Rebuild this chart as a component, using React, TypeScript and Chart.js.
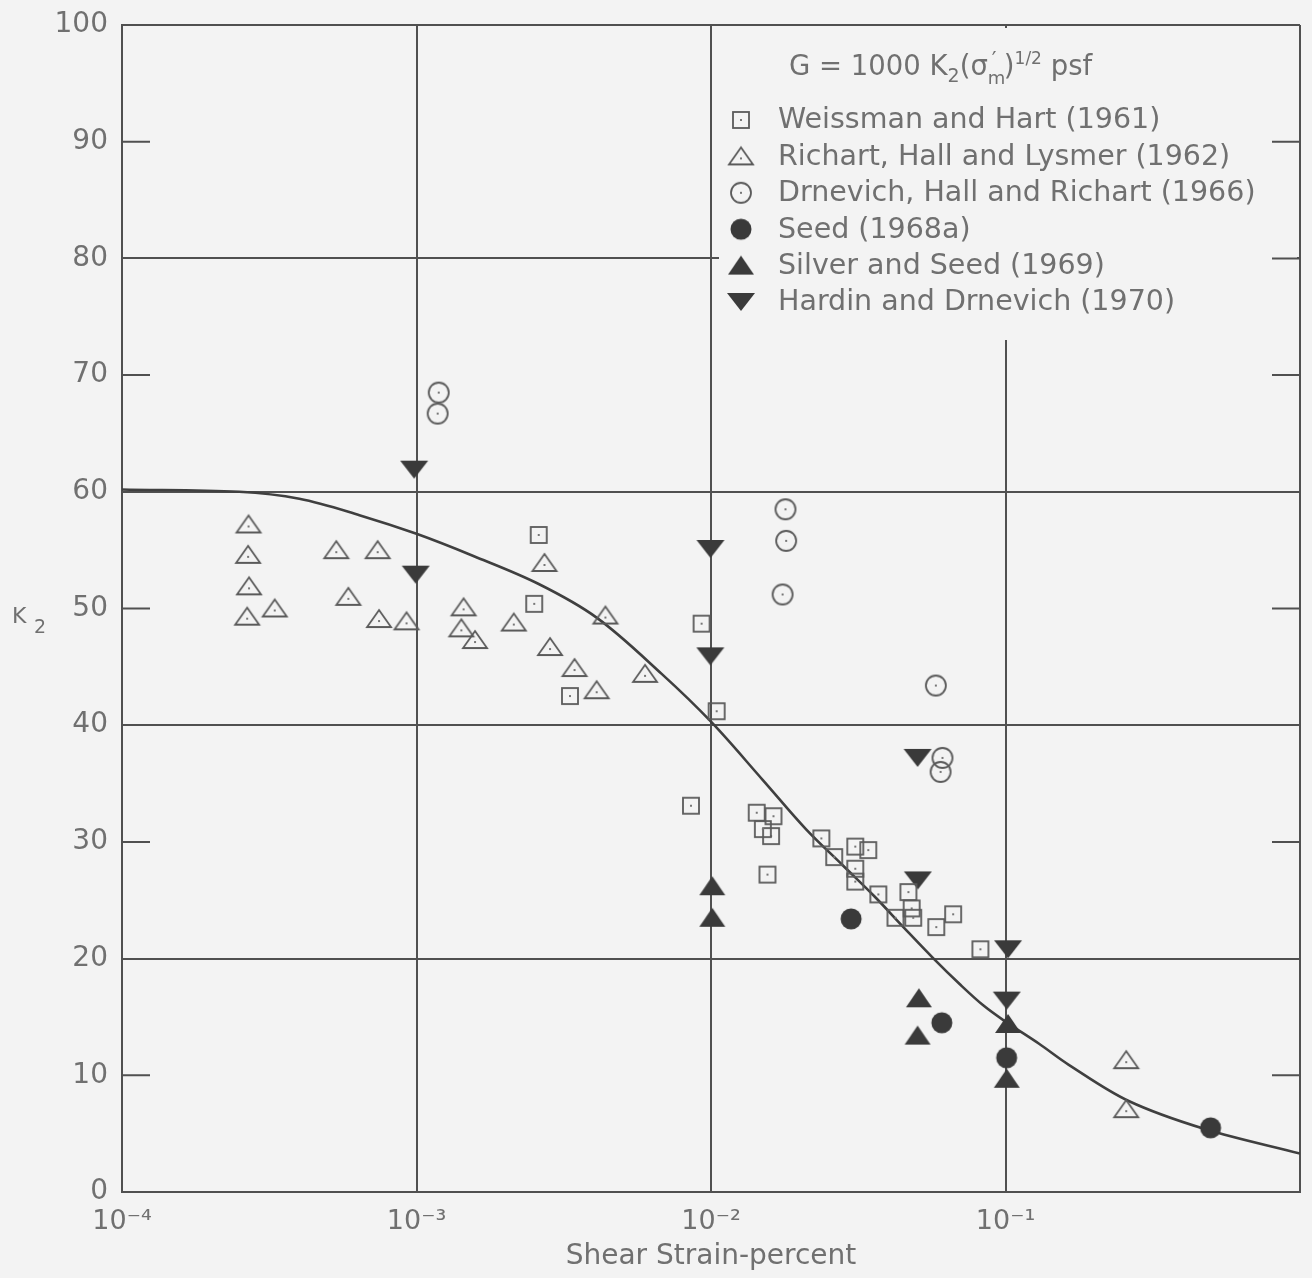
import React, { useEffect, useRef } from "react";
import { Chart, registerables } from "chart.js";

Chart.register(...registerables);

// ---------- data ----------
const xTickValues = [1e-4, 1e-3, 1e-2, 1e-1, 1];
const xTickLabels = ["10⁻⁴", "10⁻³", "10⁻²", "10⁻¹", ""];
const yMajorGrid = [0, 20, 40, 60, 80, 100];
const yMinorTicks = [10, 30, 50, 70, 90];

const seriesLabels = [
  "Weissman and Hart (1961)",
  "Richart, Hall and Lysmer (1962)",
  "Drnevich, Hall and Richart (1966)",
  "Seed (1968a)",
  "Silver and Seed (1969)",
  "Hardin and Drnevich (1970)",
];

const weissmanX = [2.6e-3, 2.51e-3, 3.32e-3, 9.29e-3, 1.045e-2, 8.55e-3, 1.43e-2, 1.63e-2, 1.6e-2, 1.5e-2, 1.555e-2, 2.37e-2, 2.62e-2, 3.09e-2, 3.42e-2, 3.09e-2, 3.09e-2, 3.7e-2, 4.68e-2, 4.8e-2, 4.86e-2, 4.23e-2, 5.82e-2, 6.64e-2, 8.22e-2];
const weissmanY = [56.3, 50.4, 42.5, 48.7, 41.2, 33.1, 32.5, 32.2, 30.5, 31.1, 27.2, 30.3, 28.7, 29.6, 29.3, 27.7, 26.6, 25.5, 25.7, 24.3, 23.5, 23.5, 22.7, 23.8, 20.8];

const richartX = [2.69e-4, 2.68e-4, 2.7e-4, 2.66e-4, 3.3e-4, 5.34e-4, 7.38e-4, 5.87e-4, 7.46e-4, 9.25e-4, 1.445e-3, 1.42e-3, 1.58e-3, 2.14e-3, 2.72e-3, 4.38e-3, 2.84e-3, 3.44e-3, 4.09e-3, 5.97e-3, 0.257, 0.257];
const richartY = [57.2, 54.6, 51.9, 49.3, 50.0, 55.0, 55.0, 51.0, 49.1, 48.9, 50.1, 48.3, 47.3, 48.8, 53.9, 49.4, 46.7, 44.9, 43.0, 44.4, 11.3, 7.1];

const drnevichX = [1.19e-3, 1.18e-3, 1.79e-2, 1.8e-2, 1.75e-2, 5.8e-2, 6.11e-2, 6.02e-2];
const drnevichY = [68.5, 66.7, 58.5, 55.8, 51.2, 43.4, 37.2, 36.0];

const seedX = [2.99e-2, 6.08e-2, 0.1009, 0.497];
const seedY = [23.4, 14.5, 11.5, 5.5];

const silverX = [1.01e-2, 1.01e-2, 5.08e-2, 5.03e-2, 0.102, 0.101];
const silverY = [26.2, 23.5, 16.6, 13.4, 14.4, 9.7];

const hardinX = [9.82e-4, 9.94e-4, 9.96e-3, 9.95e-3, 5.03e-2, 5.04e-2, 0.102, 0.101];
const hardinY = [61.9, 52.9, 55.1, 45.9, 37.2, 26.7, 20.8, 16.4];

const curveX = [1e-4, 2.5e-4, 4e-4, 6.4e-4, 1e-3, 1.56e-3, 2.6e-3, 4.1e-3, 6.8e-3, 1e-2, 1.5e-2, 2.1e-2, 2.8e-2, 3.6e-2, 4.5e-2, 5.7e-2, 7e-2, 8.4e-2, 0.1, 0.13, 0.164, 0.262, 0.475, 1];
const curveY = [60.2, 60.0, 59.4, 58.0, 56.4, 54.5, 52.1, 49.2, 44.4, 40.3, 35.3, 31.1, 28.0, 25.3, 22.7, 20.0, 17.8, 16.0, 14.6, 12.7, 10.9, 7.8, 5.4, 3.3];

// ---------- style ----------
const BG = "#f3f3f3";
const LINE = "#505050";
const TEXT = "#707070";
const FONT = "DejaVu Sans";

const pts = (xs: number[], ys: number[]) => xs.map((x, i) => ({ x, y: ys[i] }));

function makeMarker(w: number, h: number, draw: (g: CanvasRenderingContext2D) => void) {
  const c = document.createElement("canvas");
  c.width = w;
  c.height = h;
  const g = c.getContext("2d")!;
  draw(g);
  return c;
}

function buildMarkers() {
  const stroke = "#5a5a5a";
  const fill = "#3a3a3a";
  const dot = (g: CanvasRenderingContext2D, x: number, y: number) => {
    g.fillStyle = "#777";
    g.fillRect(x - 1, y - 1, 2, 2);
  };
  const square = makeMarker(22, 22, (g) => {
    g.strokeStyle = stroke;
    g.lineWidth = 1.8;
    g.strokeRect(3, 3, 16, 16);
    dot(g, 11, 11);
  });
  const triOpen = makeMarker(30, 24, (g) => {
    g.strokeStyle = stroke;
    g.lineWidth = 1.8;
    g.beginPath();
    g.moveTo(15, 3);
    g.lineTo(27, 20);
    g.lineTo(3, 20);
    g.closePath();
    g.stroke();
    dot(g, 15, 14);
  });
  const circOpen = makeMarker(26, 26, (g) => {
    g.strokeStyle = stroke;
    g.lineWidth = 1.8;
    g.beginPath();
    g.arc(13, 13, 10, 0, Math.PI * 2);
    g.stroke();
    dot(g, 13, 13);
  });
  const circFill = makeMarker(26, 26, (g) => {
    g.fillStyle = fill;
    g.beginPath();
    g.arc(13, 13, 10.5, 0, Math.PI * 2);
    g.fill();
  });
  const triFill = makeMarker(30, 24, (g) => {
    g.fillStyle = fill;
    g.beginPath();
    g.moveTo(15, 2);
    g.lineTo(28, 21);
    g.lineTo(2, 21);
    g.closePath();
    g.fill();
  });
  const triDown = makeMarker(32, 24, (g) => {
    g.fillStyle = fill;
    g.beginPath();
    g.moveTo(2, 3);
    g.lineTo(30, 3);
    g.lineTo(16, 21);
    g.closePath();
    g.fill();
  });
  return [square, triOpen, circOpen, circFill, triFill, triDown];
}

export default function App() {
  const ref = useRef<HTMLCanvasElement | null>(null);

  useEffect(() => {
    document.body.style.margin = "0";
    document.body.style.background = BG;
    const canvas = ref.current;
    if (!canvas) return;
    const markers = buildMarkers();
    const seriesX = [weissmanX, richartX, drnevichX, seedX, silverX, hardinX];
    const seriesY = [weissmanY, richartY, drnevichY, seedY, silverY, hardinY];

    const scatterSets = seriesLabels.map((label, i) => ({
      label,
      data: pts(seriesX[i], seriesY[i]),
      pointStyle: markers[i],
      pointRadius: 10,
      showLine: false,
    }));

    const bgPlugin = {
      id: "bg",
      beforeDraw(chart: any) {
        const c = chart.ctx;
        c.save();
        c.fillStyle = BG;
        c.fillRect(0, 0, chart.width, chart.height);
        c.restore();
      },
    };

    const legendPlugin = {
      id: "k2legend",
      beforeDatasetsDraw(chart: any) {
        const { ctx, chartArea: a, scales } = chart;
        const xs = scales.x;
        const ys = scales.y;
        ctx.save();
        // legend panel covering the grid
        const bx = xs.getPixelForValue(1e-2) + 8;
        const by = a.top + 3;
        ctx.fillStyle = BG;
        ctx.fillRect(bx, by, a.right - 3 - bx, 312);

        // inward short ticks
        ctx.strokeStyle = LINE;
        ctx.lineWidth = 2;
        ctx.beginPath();
        for (const v of yMinorTicks) {
          const py = ys.getPixelForValue(v);
          ctx.moveTo(a.left, py);
          ctx.lineTo(a.left + 28, py);
        }
        for (const v of [...yMinorTicks, 80]) {
          const py = ys.getPixelForValue(v);
          ctx.moveTo(a.right - 28, py);
          ctx.lineTo(a.right, py);
        }
        ctx.stroke();

        // formula title
        ctx.fillStyle = TEXT;
        ctx.textBaseline = "alphabetic";
        ctx.textAlign = "left";
        let x = bx + 70;
        const base = a.top + 50;
        const put = (t: string, size: number, dy: number) => {
          ctx.font = `${size}px "${FONT}"`;
          ctx.fillText(t, x, base + dy);
          x += ctx.measureText(t).width;
        };
        put("G = 1000 K", 27.5, 0);
        put("2", 19, 7);
        put("(σ", 27.5, 0);
        const mx = x;
        put("m", 18, 9);
        x = mx + 4;
        put("′", 21, -8);
        x = Math.max(x, mx + 16);
        put(")", 27.5, 0);
        put("1/2", 17, -11);
        put(" psf", 27.5, 0);

        // entries
        ctx.font = `28.5px "${FONT}"`;
        ctx.textBaseline = "middle";
        const rowTop = a.top + 95;
        const rowGap = 36.4;
        seriesLabels.forEach((label, i) => {
          const cy = rowTop + i * rowGap;
          const m = markers[i];
          const mxc = bx + 22;
          ctx.drawImage(m, mxc - m.width / 2, cy - m.height / 2);
          ctx.fillStyle = TEXT;
          ctx.fillText(label, bx + 59, cy + 1);
        });

        // K2 axis label
        ctx.textBaseline = "alphabetic";
        ctx.font = `22px "${FONT}"`;
        const k50 = ys.getPixelForValue(50);
        ctx.fillText("K", 12, k50 + 14);
        ctx.font = `19px "${FONT}"`;
        ctx.fillText("2", 34, k50 + 24);
        ctx.restore();
      },
    };

    const chart = new Chart(canvas, {
      type: "scatter",
      data: {
        datasets: [
          ...scatterSets,
          {
            label: "curve",
            data: pts(curveX, curveY),
            showLine: true,
            borderColor: "#3f3f3f",
            borderWidth: 2.6,
            pointRadius: 0,
            tension: 0.35,
            fill: false,
          } as any,
        ],
      },
      options: {
        animation: false,
        responsive: false,
        devicePixelRatio: 1,
        layout: { padding: { top: 25, right: 12, left: 0, bottom: 0 } },
        plugins: {
          legend: { display: false },
          tooltip: { enabled: false },
        },
        scales: {
          x: {
            type: "logarithmic",
            min: 1e-4,
            max: 1,
            afterBuildTicks: (scale: any) => {
              scale.ticks = xTickValues.map((v) => ({ value: v }));
            },
            afterFit: (scale: any) => {
              scale.height = 86;
              scale.paddingLeft = 0;
              scale.paddingRight = 0;
            },
            ticks: {
              autoSkip: false,
              maxRotation: 0,
              padding: 14,
              color: TEXT,
              font: { family: FONT, size: 27 },
              callback: (value: any) => {
                const idx = xTickValues.findIndex((v) => Math.abs(Math.log10(v) - Math.log10(Number(value))) < 1e-6);
                return idx >= 0 ? xTickLabels[idx] : "";
              },
            },
            grid: {
              color: LINE,
              lineWidth: 2,
              drawTicks: false,
            },
            border: { display: true, color: LINE, width: 2 },
            title: {
              display: true,
              text: "Shear Strain-percent",
              color: TEXT,
              font: { family: FONT, size: 28 },
            },
          },
          y: {
            type: "linear",
            min: 0,
            max: 100,
            afterFit: (scale: any) => {
              scale.width = 122;
              scale.paddingTop = 0;
              scale.paddingBottom = 0;
            },
            ticks: {
              stepSize: 10,
              padding: 14,
              color: TEXT,
              font: { family: FONT, size: 28 },
              callback: (value: any) => String(value),
            },
            grid: {
              color: (c: any) => (c.tick && yMajorGrid.includes(c.tick.value) ? LINE : "rgba(0,0,0,0)"),
              lineWidth: 2,
              drawTicks: false,
            },
            border: { display: true, color: LINE, width: 2 },
          },
        },
      },
      plugins: [bgPlugin, legendPlugin],
    } as any);

    return () => chart.destroy();
  }, []);

  return <canvas ref={ref} width={1312} height={1278} style={{ display: "block" }} />;
}
